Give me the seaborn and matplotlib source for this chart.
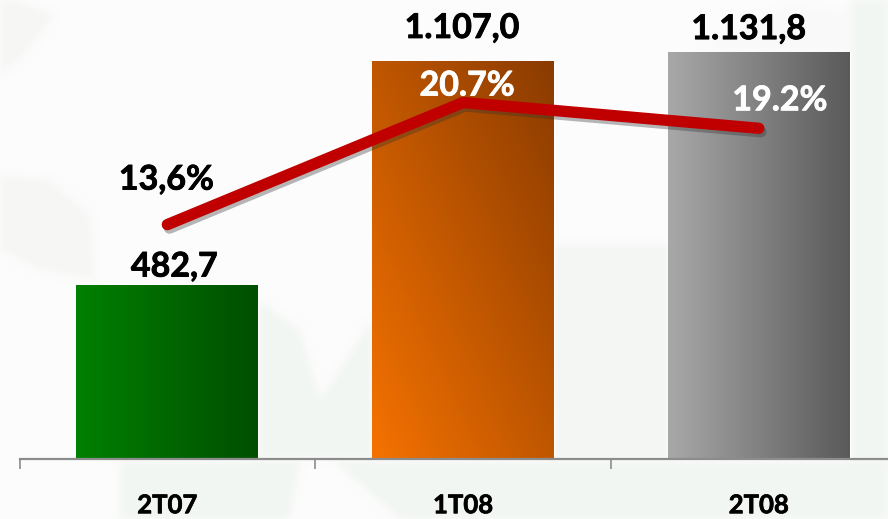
import numpy as np
import pandas as pd
import matplotlib
matplotlib.use('Agg')
import matplotlib.pyplot as plt
import matplotlib.patheffects as pe
from matplotlib.colors import to_rgb
from matplotlib.patches import Polygon
import seaborn as sns

periods = ['2T07', '1T08', '2T08']
values = [482.7, 1107.0, 1131.8]
value_labels = ['482,7', '1.107,0', '1.131,8']
margins = [13.6, 20.7, 19.2]
margin_labels = ['13,6%', '20.7%', '19.2%']

# gradient ends per bar: left/bottom colour, right/top colour
bar_colors = [('#008000', '#004f00'), ('#f57200', '#8a3b00'), ('#a8a8a8', '#5a5a5a')]

sns.set_theme(style='white')
plt.rcParams['font.family'] = ['Lato', 'DejaVu Sans']
plt.rcParams['font.weight'] = 'bold'

W, H = 888, 519
YMAX = 1280
fig = plt.figure(figsize=(W / 100, H / 100), dpi=100, facecolor='#fcfcfc')


def soft(color, size=9):
    # blur the alpha of a shape so the map has no hard edges
    rgb = np.array(to_rgb(color))
    kernel = np.ones(size) / size

    def f(img, dpi):
        pad = size * 2
        a = np.pad(img[..., 3], pad)
        for _ in range(2):
            a = np.apply_along_axis(lambda r: np.convolve(r, kernel, mode='same'), 0, a)
            a = np.apply_along_axis(lambda r: np.convolve(r, kernel, mode='same'), 1, a)
        out = np.zeros(a.shape + (4,))
        out[..., :3] = rgb
        out[..., 3] = a
        return out, -pad, -pad
    return f


# faint map in the background, in pixels
bg = fig.add_axes([0, 0, 1, 1], zorder=-1)
bg.set_xlim(0, W)
bg.set_ylim(H, 0)
bg.axis('off')
shapes = [
    [(335, 462), (888, 462), (888, 519), (400, 519)],
    [(120, 462), (300, 462), (290, 519), (120, 519)],
    [(258, 300), (300, 330), (320, 400), (372, 320), (372, 458), (258, 458)],
    [(554, 245), (668, 245), (668, 458), (554, 458)],
    [(851, 0), (888, 0), (888, 462), (851, 462)],
    [(700, 50), (790, 5), (850, 15), (851, 50)],
    [(0, 175), (50, 180), (90, 215), (95, 280), (40, 270), (0, 250)],
    [(0, 0), (15, 0), (55, 15), (20, 60), (0, 75)],
]
for s, c in zip(shapes, ['#f2f6f2', '#f2f6f2', '#f2f6f2', '#f3f6f3', '#f2f6f2', '#f8f9f8', '#f6f7f5', '#f6f7f5']):
    p = Polygon(s, closed=True, facecolor=c, edgecolor='none')
    p.set_agg_filter(soft(c))
    bg.add_patch(p)

ax = fig.add_axes([19.5 / W, (H - 458.5) / H, 1 - 19.5 / W, 458.5 / H])
ax.patch.set_alpha(0)

df = pd.DataFrame({'period': periods, 'value': values})
sns.barplot(data=df, x='period', y='value', color='#888888', width=0.615, ax=ax, zorder=2)

xlim = (-0.5, 2.437)
ylim = (0, YMAX)

# gradient fill clipped to each bar
for i, (bar, (c0, c1)) in enumerate(zip(ax.patches, bar_colors)):
    bar.set_path_effects([pe.SimplePatchShadow(offset=(0, -2), shadow_rgbFace='#555555', alpha=0.35), pe.Normal()])
    x0, x1 = bar.get_x(), bar.get_x() + bar.get_width()
    y1 = bar.get_height()
    u, v = np.meshgrid(np.linspace(0, 1, 120), np.linspace(0, 1, 120))
    # the orange one runs diagonally, the others left to right
    t = 0.5 * u + 0.5 * v if i == 1 else u
    img = np.array(to_rgb(c0))[None, None, :] * (1 - t[..., None]) + np.array(to_rgb(c1))[None, None, :] * t[..., None]
    ax.imshow(img, extent=(x0, x1, 0, y1), origin='lower', aspect='auto', zorder=3, interpolation='bilinear')

ax.set_xlim(*xlim)
ax.set_ylim(*ylim)
ax.set_xlabel('')
ax.set_ylabel('')
ax.set_yticks([])

for s in ['top', 'left', 'right']:
    ax.spines[s].set_visible(False)
ax.spines['bottom'].set_color('#8c8c8c')
ax.spines['bottom'].set_linewidth(1.6)
ax.spines['bottom'].set_zorder(5)
ax.set_xticks([0, 1, 2])
ax.set_xticklabels(periods, fontsize=18.5, fontweight='bold', color='black',
                   path_effects=[pe.withStroke(linewidth=0.5, foreground='black')])
ax.set_xticks([-0.5, 0.5, 1.5], minor=True)
ax.tick_params(axis='x', which='major', length=0, pad=25)
ax.tick_params(axis='x', which='minor', length=7, width=1.2, color='#8c8c8c', bottom=True)

ax2 = ax.twinx()
ax2.patch.set_alpha(0)
sns.lineplot(x=[0, 1, 2], y=margins, ax=ax2, color='#c00000', linewidth=8.2, sort=False,
             solid_capstyle='round', solid_joinstyle='round', zorder=6,
             path_effects=[pe.SimpleLineShadow(offset=(1.5, -2.5), shadow_color='#333333', alpha=0.35), pe.Normal()])
ax2.set_ylim(0, 26.66)
ax2.set_xlim(*xlim)
ax2.set_yticks([])
ax2.set_ylabel('')
for s in ax2.spines.values():
    s.set_visible(False)


# labels, offsets in pixels from the mark
def label(axis, x, y, txt, dx, dy, color):
    axis.annotate(txt, (x, y), xytext=(dx * 0.72, -dy * 0.72), textcoords='offset points', ha='center', va='center',
                  fontsize=24.5, fontweight='bold', color=color, zorder=8,
                  path_effects=[pe.withStroke(linewidth=0.6, foreground=color)])


label_dx = [7, -1, -10]
label_dy = [-19, -34, -24]
for i in range(3):
    label(ax2, i, values[i] / YMAX * 26.66, value_labels[i], label_dx[i], label_dy[i], 'black')

pct_dx = [-1, 4, 21]
pct_dy = [-45, -17, -28]
pct_colors = ['black', 'white', 'white']
for i in range(3):
    label(ax2, i, margins[i], margin_labels[i], pct_dx[i], pct_dy[i], pct_colors[i])

fig.savefig('out.png', dpi=100, facecolor=fig.get_facecolor())
